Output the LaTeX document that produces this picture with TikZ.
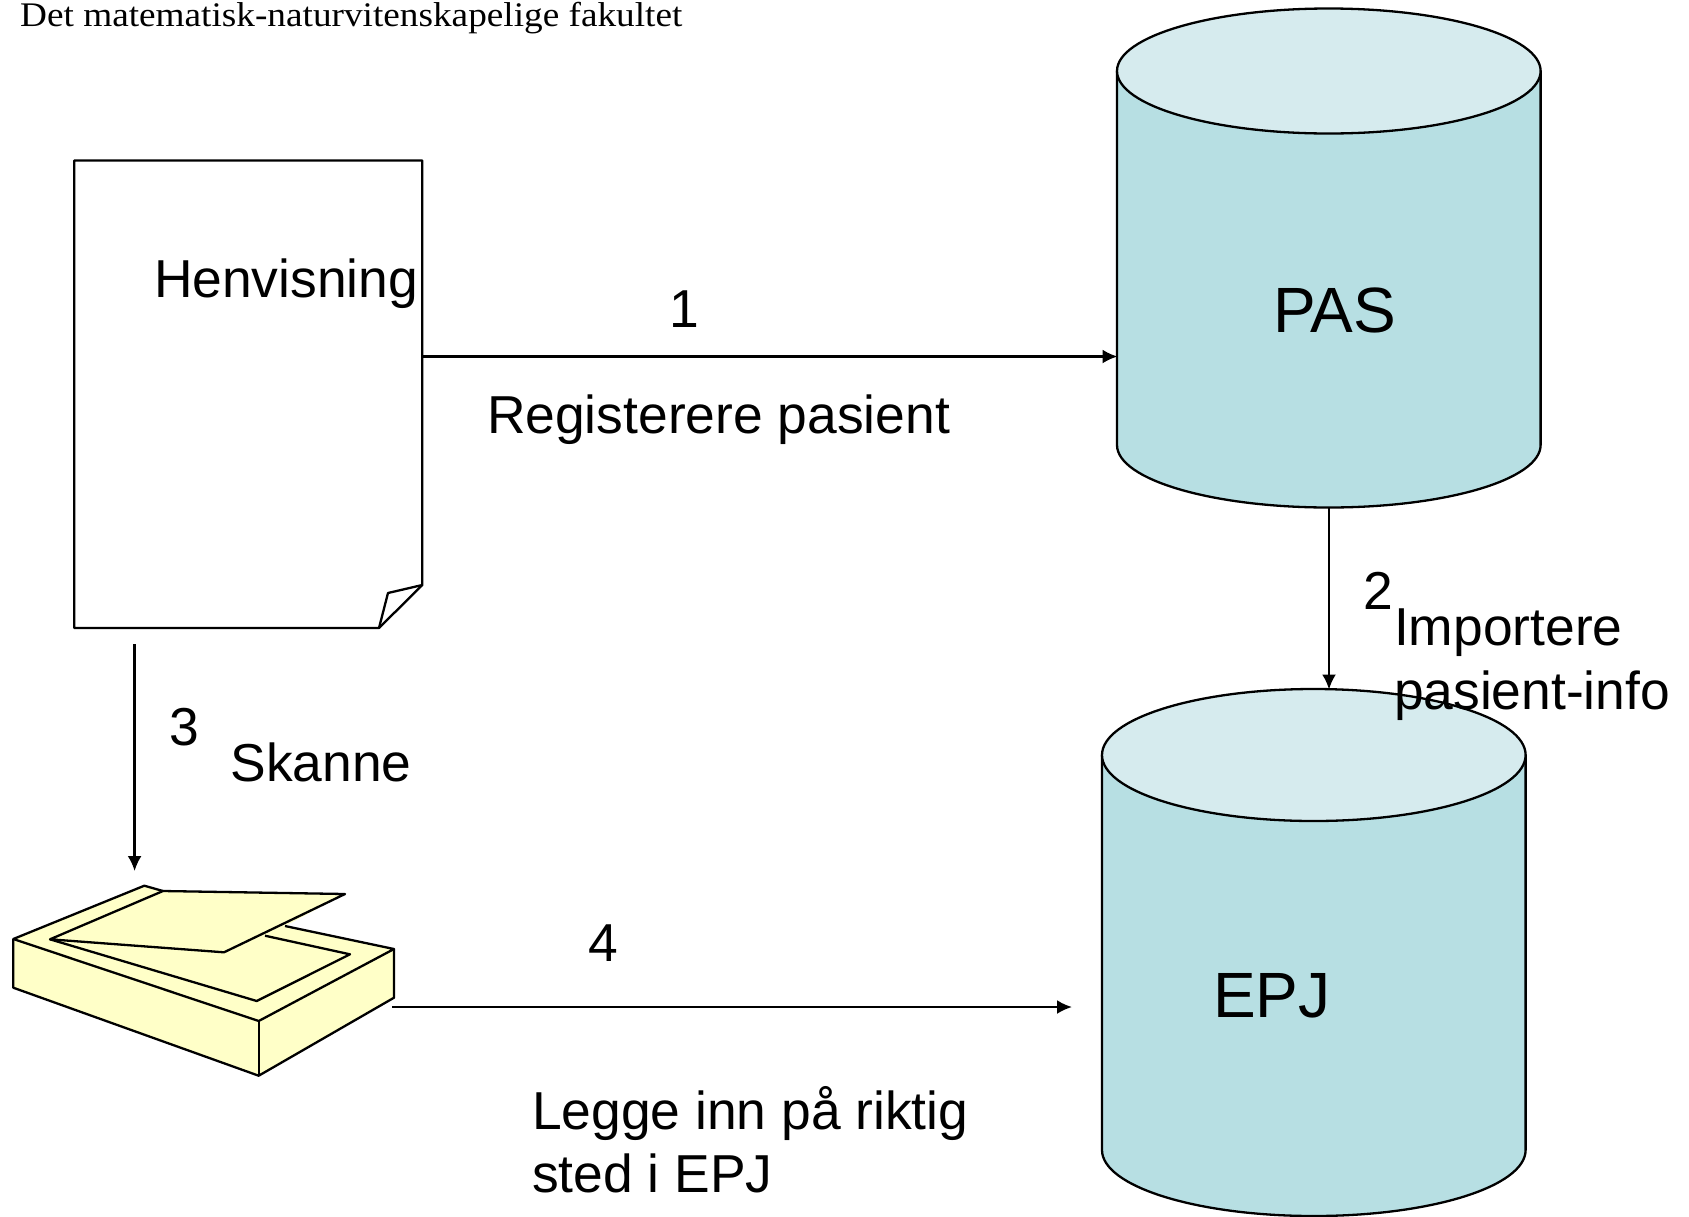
\documentclass[tikz,border=0pt]{standalone}
\usepackage{fontspec}
\setmainfont{Liberation Sans}
\newfontfamily\headfont[FakeStretch=1.08]{Liberation Serif}
\usetikzlibrary{arrows.meta}
\tikzset{
  shapeline/.style={draw=black,line width=2.3pt,line join=round},
  cylbody/.style={shapeline,fill=cylblue},
  cyltop/.style={shapeline,fill=cyllight},
  scan/.style={shapeline,fill=scanyellow},
  conn/.style={draw=black,line width=2.3pt,-{Latex[length=15pt,width=14pt]}},
  lab/.style={anchor=base west,inner sep=0pt,outer sep=0pt,font=\fontsize{53.4}{63}\selectfont},
  biglab/.style={lab,font=\fontsize{64}{74}\selectfont},
  head/.style={anchor=base west,inner sep=0pt,font=\headfont\fontsize{34.5}{40}\selectfont,text=black}
}
\definecolor{cylblue}{HTML}{B7DFE3}
\definecolor{cyllight}{HTML}{D6EBEE}
\definecolor{scanyellow}{HTML}{FFFFC8}
\begin{document}
\begin{tikzpicture}[x=1pt,y=-1pt]
\useasboundingbox (0,0) rectangle (1689,1216);
\clip (0,0) rectangle (1689,1216);
% document
\draw[shapeline,fill=white] (74.3,160.5) -- (422.3,160.5) -- (422.3,585) -- (379,628) -- (74.3,628) -- cycle;
\draw[shapeline] (379,628) -- (388,593) -- (422.3,585);
\coordinate (docR) at (422.3,356.5);
\coordinate (docB) at (134.6,644);
% PAS cylinder
\draw[cylbody] (1117,71) -- (1117,445) arc[start angle=180,end angle=0,x radius=211.8,y radius=62.5] -- (1540.6,71) -- cycle;
\draw[cyltop] (1328.8,71) ellipse[x radius=211.8,y radius=62.5];
\coordinate (pasL) at (1117.5,356.5);
\coordinate (pasB) at (1329,507.5);
% EPJ cylinder
\draw[cylbody] (1102,755) -- (1102,1150) arc[start angle=180,end angle=0,x radius=211.8,y radius=66] -- (1525.6,755) -- cycle;
\draw[cyltop] (1313.8,755) ellipse[x radius=211.8,y radius=66];
\coordinate (epjT) at (1329,689.5);
\coordinate (epjL) at (1072,1007);
% scanner
\fill[scanyellow] (13.3,939) -- (144.3,885.7) -- (163,891) -- (345,894) -- (285,926) -- (394,949) -- (394,997.7) -- (258.7,1075.7) -- (13.3,987.7) -- cycle;
\draw[shapeline] (285,926) -- (394,949) -- (258.7,1021) -- (13.3,939) -- (144.3,885.7) -- (163,891);
\draw[shapeline] (13.3,939) -- (13.3,987.7) -- (258.7,1075.7) -- (394,997.7) -- (394,949);
\draw[shapeline] (258.7,1021) -- (258.7,1075.7);
\draw[shapeline] (265,935.7) -- (350,954.3) -- (256.7,1001) -- (50,939.3);
\draw[scan] (50,939.3) -- (163,891) -- (345,894) -- (224,952.3) -- cycle;
\coordinate (scanT) at (134.6,871);
\coordinate (scanR) at (392,1007);
% connectors
\draw[conn] (docR) -- (pasL);
\draw[conn] (pasB) -- (epjT);
\draw[conn] (docB) -- (scanT);
\draw[conn] (scanR) -- (epjL);
% labels
\node[head] (title) at (20,26) {Det matematisk-naturvitenskapelige fakultet};
\node[lab] (henv) at (154,297) {Henvisning};
\node[lab] (n1) at (669,327.5) {1};
\node[lab] (reg) at (487,433) {Registerere pasient};
\node[biglab] (pas) at (1273,332) {PAS};
\node[lab] (n2) at (1363,609) {2};
\node[lab] (imp1) at (1394,645) {Importere};
\node[lab] (imp2) at (1394,709) {pasient-info};
\node[lab] (n3) at (169,745.5) {3};
\node[lab] (ska) at (230.5,781) {Skanne};
\node[lab] (n4) at (588,961) {4};
\node[biglab] (epj) at (1213,1017) {EPJ};
\node[lab] (leg1) at (532,1129) {Legge inn på riktig};
\node[lab] (leg2) at (532,1192) {sted i EPJ};
\end{tikzpicture}
\end{document}
